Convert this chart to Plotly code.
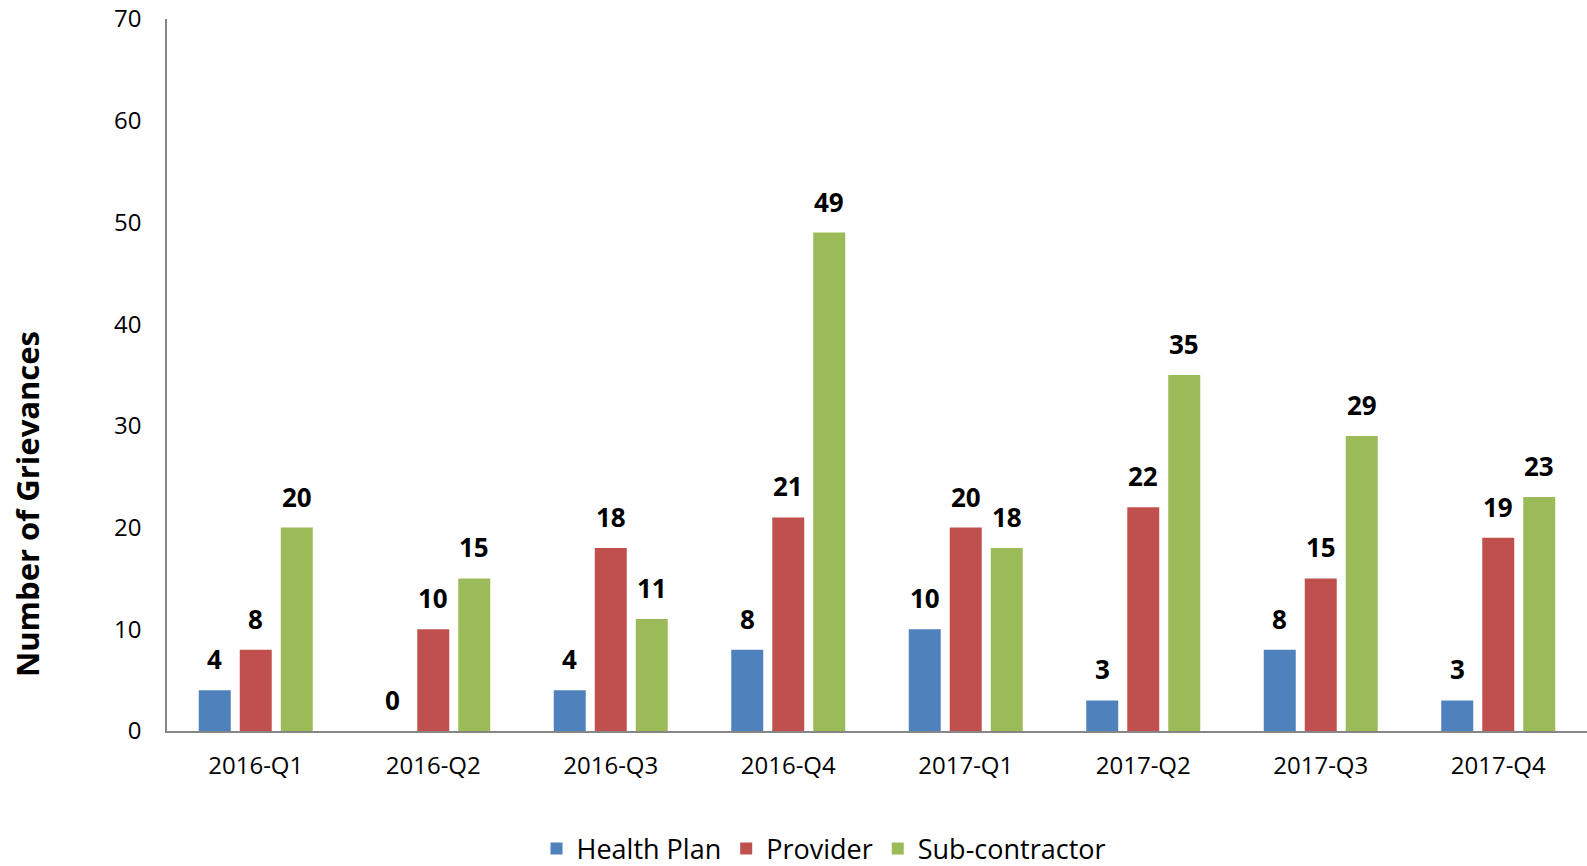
import plotly.graph_objects as go

categories = ["2016-Q1", "2016-Q2", "2016-Q3", "2016-Q4", "2017-Q1", "2017-Q2", "2017-Q3", "2017-Q4"]
health_plan = [4, 0, 4, 8, 10, 3, 8, 3]
provider = [8, 10, 18, 21, 20, 22, 15, 19]
sub_contractor = [20, 15, 11, 49, 18, 35, 29, 23]
series_names = ["Health Plan", "Provider", "Sub-contractor"]
colors = ["#4F81BD", "#C0504D", "#9BBB59"]

FONT = "Open Sans, Carlito, Calibri, sans-serif"
BARGAP = 0.307
W, H = 1587, 866
L, R, T, B = 167, 0, 19, 135

fig = go.Figure()
all_series = [health_plan, provider, sub_contractor]
for name, vals, col in zip(series_names, all_series, colors):
    fig.add_trace(go.Bar(x=categories, y=vals, name=name, marker=dict(color=col, line=dict(width=0))))

slot = (1 - BARGAP) / 3
annotations = []
for s, vals in enumerate(all_series):
    for i, v in enumerate(vals):
        annotations.append(dict(
            x=i + (s - 1) * slot, y=v, xref="x", yref="y",
            text=str(v), showarrow=False, yanchor="bottom", yshift=11,
            font=dict(family=FONT, size=26, color="#000000", weight="bold"),
        ))

plot_h = H - T - B
annotations.append(dict(
    x=0, y=(H - B - 504) / plot_h, xref="paper", yref="paper",
    xshift=27 - L, text="<b>Number of Grievances</b>", textangle=-90,
    showarrow=False, xanchor="center", yanchor="middle",
    font=dict(family=FONT, size=31, color="#000000"),
))

fig.update_layout(
    width=W, height=H,
    margin=dict(l=L, r=R, t=T, b=B, pad=0, autoexpand=False),
    paper_bgcolor="white", plot_bgcolor="white",
    barmode="group", bargap=BARGAP, bargroupgap=0.22,
    font=dict(family=FONT, color="#000000"),
    showlegend=True,
    legend=dict(
        orientation="h", x=(824 - L) / (W - L - R), xanchor="center",
        y=(H - B - 849) / plot_h, yanchor="middle",
        font=dict(family=FONT, size=27, color="#000000"),
        itemsizing="constant", traceorder="normal",
    ),
    annotations=annotations,
    xaxis=dict(
        type="category", showline=True, linecolor="#868686", linewidth=1.5,
        showgrid=False, ticks="", tickfont=dict(family=FONT, size=24, color="#000000"),
        ticklabelstandoff=12, zeroline=False,
    ),
    yaxis=dict(
        range=[0, 70], dtick=10, showline=True, linecolor="#868686", linewidth=1.5,
        showgrid=False, ticks="", zeroline=False,
        tickfont=dict(family=FONT, size=24, color="#000000"),
        ticklabelstandoff=19,
    ),
)

fig.write_html("out.html")
